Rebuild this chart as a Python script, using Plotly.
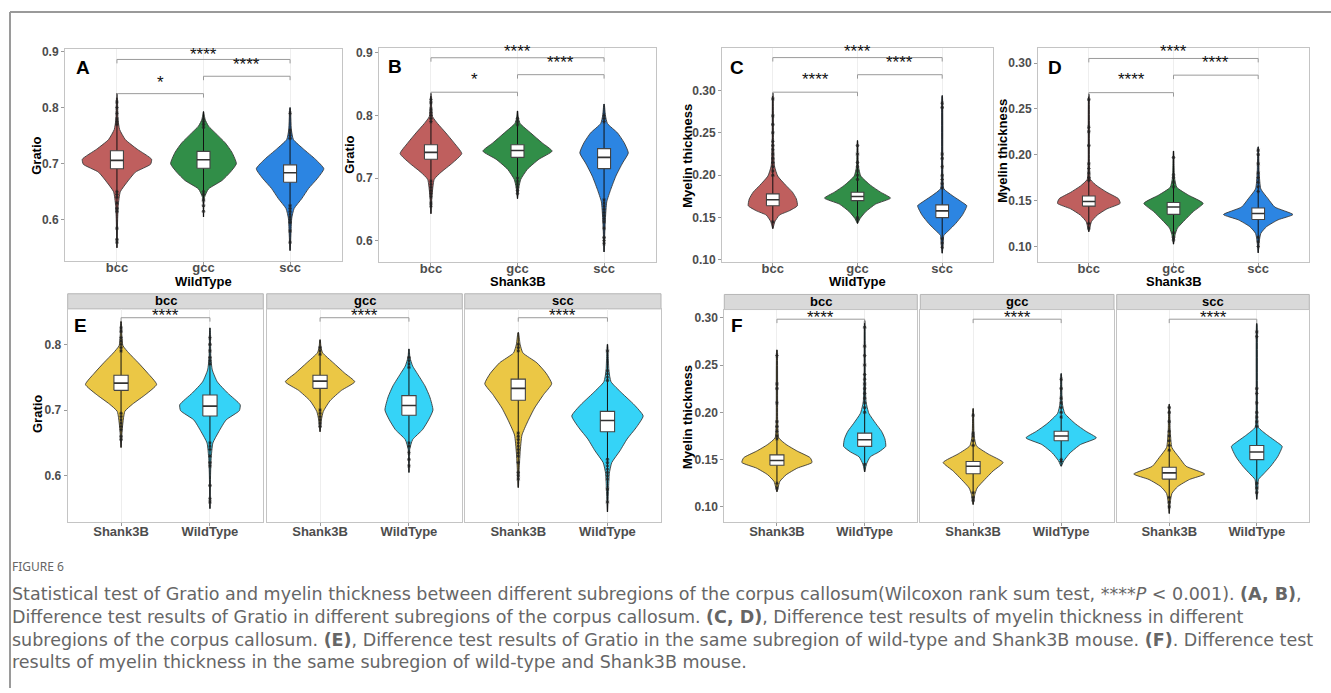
import plotly.graph_objects as go

W, H = 1331, 693

# ---------------- data ----------------
regions = ["bcc", "gcc", "scc"]
genotypes = ["Shank3B", "WildType"]

# Gratio - WildType
wt_gratio_bcc = dict(
    levels=[0.55, 0.60, 0.626, 0.65, 0.667, 0.685, 0.699, 0.708, 0.726, 0.743, 0.761, 0.78, 0.825],
    density=[0.5, 2, 4, 10, 30, 55, 100, 103, 60, 25, 8, 3, 0.5],
    quartiles=[0.691, 0.706, 0.723],
    extent=[0.55, 0.825],
    outliers=[0.56, 0.565, 0.585, 0.615, 0.62, 0.63, 0.64, 0.645, 0.65, 0.77, 0.775, 0.78, 0.79, 0.80, 0.81])
wt_gratio_gcc = dict(
    levels=[0.605, 0.64, 0.655, 0.67, 0.685, 0.70, 0.72, 0.737, 0.755, 0.767, 0.78, 0.793],
    density=[0.5, 3, 15, 55, 80, 98, 85, 65, 35, 15, 4, 0.5],
    quartiles=[0.692, 0.707, 0.722],
    extent=[0.605, 0.793],
    outliers=[0.615, 0.625, 0.635, 0.645, 0.65, 0.765, 0.77, 0.775, 0.78])
wt_gratio_scc = dict(
    levels=[0.545, 0.58, 0.603, 0.62, 0.638, 0.656, 0.673, 0.691, 0.708, 0.726, 0.743, 0.76, 0.80],
    density=[0.5, 3, 5, 12, 35, 55, 80, 100, 75, 40, 10, 4, 0.5],
    quartiles=[0.667, 0.684, 0.698],
    extent=[0.545, 0.80],
    outliers=[0.56, 0.58, 0.595, 0.60, 0.605, 0.61, 0.615, 0.62, 0.625, 0.745, 0.75, 0.755, 0.76, 0.79])

# Gratio - Shank3B
s_gratio_bcc = dict(
    levels=[0.643, 0.67, 0.698, 0.709, 0.724, 0.739, 0.756, 0.772, 0.787, 0.798, 0.815, 0.835],
    density=[0.5, 3, 10, 30, 65, 93, 70, 45, 20, 5, 2, 0.5],
    quartiles=[0.730, 0.741, 0.753],
    extent=[0.643, 0.835],
    outliers=[0.655, 0.66, 0.67, 0.675, 0.68, 0.685, 0.69, 0.695, 0.79, 0.795, 0.80, 0.805, 0.81, 0.82, 0.825])
s_gratio_gcc = dict(
    levels=[0.667, 0.685, 0.698, 0.714, 0.730, 0.743, 0.756, 0.772, 0.787, 0.795, 0.807],
    density=[0.5, 4, 10, 30, 65, 105, 75, 40, 8, 3, 0.5],
    quartiles=[0.733, 0.744, 0.753],
    extent=[0.667, 0.807],
    outliers=[0.675, 0.68, 0.685, 0.69, 0.695, 0.70, 0.785, 0.79, 0.795])
s_gratio_scc = dict(
    levels=[0.582, 0.61, 0.635, 0.662, 0.682, 0.703, 0.724, 0.740, 0.756, 0.772, 0.787, 0.80, 0.818],
    density=[0.5, 2, 4, 8, 20, 35, 55, 72, 60, 40, 10, 4, 0.5],
    quartiles=[0.715, 0.733, 0.747],
    extent=[0.582, 0.818],
    outliers=[0.595, 0.60, 0.605, 0.62, 0.63, 0.635, 0.64, 0.645, 0.65, 0.655, 0.66, 0.665, 0.79, 0.795, 0.80])

# Myelin thickness - WildType
wt_myelin_bcc = dict(
    levels=[0.137, 0.145, 0.153, 0.158, 0.164, 0.172, 0.18, 0.188, 0.199, 0.211, 0.24, 0.297],
    density=[0.5, 6, 20, 50, 75, 72, 60, 40, 15, 5, 2, 0.5],
    quartiles=[0.164, 0.171, 0.178],
    extent=[0.137, 0.297],
    outliers=[0.145, 0.20, 0.205, 0.21, 0.215, 0.22, 0.225, 0.23, 0.235, 0.24, 0.25, 0.26, 0.27, 0.29])
wt_myelin_gcc = dict(
    levels=[0.143, 0.149, 0.157, 0.166, 0.173, 0.18, 0.188, 0.199, 0.21, 0.241],
    density=[0.5, 8, 25, 55, 100, 70, 40, 10, 3, 0.5],
    quartiles=[0.170, 0.175, 0.180],
    extent=[0.143, 0.241],
    outliers=[0.148, 0.15, 0.195, 0.20, 0.205, 0.21, 0.215, 0.225, 0.235])
wt_myelin_scc = dict(
    levels=[0.108, 0.12, 0.129, 0.135, 0.143, 0.153, 0.164, 0.168, 0.176, 0.184, 0.20, 0.294],
    density=[0.5, 3, 5, 20, 40, 60, 73, 60, 30, 5, 2, 0.5],
    quartiles=[0.150, 0.158, 0.165],
    extent=[0.108, 0.294],
    outliers=[0.115, 0.12, 0.125, 0.185, 0.19, 0.195, 0.20, 0.21, 0.22, 0.225, 0.28, 0.285])

# Myelin thickness - Shank3B
s_myelin_bcc = dict(
    levels=[0.116, 0.127, 0.134, 0.141, 0.147, 0.152, 0.159, 0.166, 0.173, 0.19, 0.266],
    density=[0.5, 8, 25, 55, 95, 90, 55, 25, 5, 2, 0.5],
    quartiles=[0.144, 0.149, 0.155],
    extent=[0.116, 0.266],
    outliers=[0.12, 0.125, 0.172, 0.175, 0.18, 0.185, 0.19, 0.21, 0.225, 0.23, 0.26])
s_myelin_gcc = dict(
    levels=[0.1025, 0.113, 0.12, 0.129, 0.138, 0.147, 0.156, 0.1645, 0.175, 0.204],
    density=[0.5, 5, 12, 35, 60, 90, 45, 10, 3, 0.5],
    quartiles=[0.135, 0.143, 0.148],
    extent=[0.1025, 0.204],
    outliers=[0.107, 0.11, 0.115, 0.165, 0.17, 0.175, 0.178, 0.197])
s_myelin_scc = dict(
    levels=[0.093, 0.105, 0.1143, 0.1215, 0.129, 0.1348, 0.143, 0.152, 0.1627, 0.18, 0.2086],
    density=[0.5, 3, 8, 25, 60, 105, 50, 30, 8, 3, 0.5],
    quartiles=[0.1294, 0.136, 0.142],
    extent=[0.093, 0.2086],
    outliers=[0.10, 0.105, 0.11, 0.16, 0.165, 0.17, 0.175, 0.18, 0.19, 0.20, 0.205])

gratio_ticks = [0.6, 0.7, 0.8, 0.9]
myelin_ticks = [0.10, 0.15, 0.20, 0.25, 0.30]

# ---------------- styling ----------------
region_colors = ["#BF5F5E", "#318E48", "#2C85E2"]
geno_colors = ["#EBC745", "#35D3F7"]
OUTLINE = "#3a3a3a"
FONT = "Liberation Sans"

fig = go.Figure()
annotations = []
shapes = []


def px_x(x):
    return x / W


def px_y(y):
    return 1 - y / H


def add_axes(i, box, xr, yr, tickvals, ticktext, yticks, yfmt, show_y=True, xstand=-9):
    x0, x1, top, bot = box
    sfx = "" if i == 1 else str(i)
    fig.update_layout(**{
        "xaxis" + sfx: dict(domain=[px_x(x0), px_x(x1)], range=xr, anchor="y" + sfx,
                            tickvals=tickvals, ticktext=ticktext, showgrid=True,
                            gridcolor="#eeeeee", gridwidth=1, zeroline=False,
                            showline=True, mirror=True, linecolor="#c4c4c4", linewidth=1,
                            ticks="outside", ticklen=3, tickcolor="#9a9a9a",
                            ticklabelstandoff=xstand,
                            tickfont=dict(family=FONT, size=13, color="#4d4d4d", weight="bold"),
                            fixedrange=True),
        "yaxis" + sfx: dict(domain=[px_y(bot), px_y(top)], range=yr, anchor="x" + sfx,
                            tickvals=yticks if show_y else [],
                            ticktext=[format(v, yfmt) for v in yticks] if show_y else [],
                            showgrid=False, zeroline=False,
                            showline=True, mirror=True, linecolor="#c4c4c4", linewidth=1,
                            ticks="outside" if show_y else "", ticklen=3, tickcolor="#9a9a9a",
                            tickfont=dict(family=FONT, size=12, color="#4d4d4d", weight="bold"),
                            fixedrange=True),
    })
    return "x" + sfx, "y" + sfx


def draw_violin(xa, ya, c, dist, halfw, color, bw):
    dens = dist["density"]
    m = max(dens)
    lv = dist["levels"]
    xs = [c + halfw * d / m for d in dens] + [c - halfw * d / m for d in reversed(dens)]
    ys = list(lv) + list(reversed(lv))
    fig.add_trace(go.Scatter(x=xs, y=ys, mode="lines", fill="toself", fillcolor=color,
                             line=dict(color=OUTLINE, width=0.9, shape="spline", smoothing=0.5),
                             xaxis=xa, yaxis=ya, hoverinfo="skip", showlegend=False))
    fig.add_trace(go.Scatter(x=[c, c], y=dist["extent"], mode="lines",
                             line=dict(color="#111111", width=1),
                             xaxis=xa, yaxis=ya, hoverinfo="skip", showlegend=False))
    fig.add_trace(go.Scatter(x=[c] * len(dist["outliers"]), y=dist["outliers"], mode="markers",
                             marker=dict(symbol="asterisk-open", size=3, color="#222222",
                                         line=dict(width=0.8, color="#222222")),
                             xaxis=xa, yaxis=ya, hoverinfo="skip", showlegend=False))
    # box (quartiles) drawn on top of the violin
    q1, med, q3 = dist["quartiles"]
    fig.add_trace(go.Scatter(x=[c - bw, c + bw, c + bw, c - bw, c - bw], y=[q1, q1, q3, q3, q1],
                             mode="lines", fill="toself", fillcolor="white",
                             line=dict(color="#444444", width=1.1),
                             xaxis=xa, yaxis=ya, hoverinfo="skip", showlegend=False))
    fig.add_trace(go.Scatter(x=[c - bw, c + bw], y=[med, med], mode="lines",
                             line=dict(color="#333333", width=1.6),
                             xaxis=xa, yaxis=ya, hoverinfo="skip", showlegend=False))


def draw_bracket(xa, ya, a, b, y, ly, label, dtick):
    fig.add_trace(go.Scatter(x=[a, a, b, b], y=[y - dtick, y, y, y - dtick], mode="lines",
                             line=dict(color="#9a9a9a", width=1),
                             xaxis=xa, yaxis=ya, hoverinfo="skip", showlegend=False))
    annotations.append(dict(x=(a + b) / 2, y=ly, xref=xa, yref=ya, text=label, showarrow=False,
                            yanchor="middle", yshift=0,
                            font=dict(family=FONT, size=17, color="#111111")))


def text(x, y, s, size, color="#000000", bold=True, angle=0, xanchor="center", family=FONT):
    annotations.append(dict(x=px_x(x), y=px_y(y), xref="paper", yref="paper", text=s,
                            showarrow=False, textangle=angle, xanchor=xanchor, yanchor="middle",
                            align="left",
                            font=dict(family=family, size=size, color=color,
                                      weight="bold" if bold else "normal")))


# ---------------- top panels A-D ----------------
top_panels = [
    dict(letter="A", dists=[wt_gratio_bcc, wt_gratio_gcc, wt_gratio_scc], box=(65, 342, 45, 260),
         yr=[0.526, 0.904], halfw=[0.40, 0.38, 0.39], yticks=gratio_ticks, fmt=".1f",
         brackets=[(1, 2, 0.825, 0.8456, "*"), (2, 3, 0.856, 0.8765, "****"), (1, 3, 0.886, 0.894, "****")],
         xtitle="WildType", ytitle="Gratio", ytx=37, yty=153, lx=83, ly=63),
    dict(letter="B", dists=[s_gratio_bcc, s_gratio_gcc, s_gratio_scc], box=(379, 656, 44, 260.7),
         yr=[0.566, 0.907], halfw=[0.356, 0.40, 0.28], yticks=gratio_ticks, fmt=".1f",
         brackets=[(1, 2, 0.837, 0.857, "*"), (2, 3, 0.865, 0.884, "****"), (1, 3, 0.892, 0.9016, "****")],
         xtitle="Shank3B", ytitle="Gratio", ytx=350, yty=152, lx=395, ly=62),
    dict(letter="C", dists=[wt_myelin_bcc, wt_myelin_gcc, wt_myelin_scc], box=(722, 993, 43.3, 260.7),
         yr=[0.0977, 0.3505], halfw=[0.29, 0.39, 0.29], yticks=myelin_ticks, fmt=".2f",
         brackets=[(1, 2, 0.298, 0.3128, "****"), (2, 3, 0.3186, 0.333, "****"), (1, 3, 0.3388, 0.3458, "****")],
         xtitle="WildType", ytitle="Myelin thickness", ytx=688, yty=153, lx=737, ly=63),
    dict(letter="D", dists=[s_myelin_bcc, s_myelin_gcc, s_myelin_scc], box=(1038, 1309, 44, 260.7),
         yr=[0.0831, 0.316], halfw=[0.37, 0.35, 0.41], yticks=myelin_ticks, fmt=".2f",
         brackets=[(1, 2, 0.2677, 0.282, "****"), (2, 3, 0.2868, 0.3008, "****"), (1, 3, 0.305, 0.3126, "****")],
         xtitle="Shank3B", ytitle="Myelin thickness", ytx=1003, yty=148, lx=1055, ly=63),
]

ax_i = 0
for p in top_panels:
    ax_i += 1
    xa, ya = add_axes(ax_i, p["box"], [0.4, 3.6], p["yr"], [1, 2, 3], regions, p["yticks"], p["fmt"])
    for k, d in enumerate(p["dists"]):
        draw_violin(xa, ya, k + 1, d, p["halfw"][k], region_colors[k], 0.075)
    x0, x1, top, bot = p["box"]
    dt = 4 * (p["yr"][1] - p["yr"][0]) / (bot - top)
    for a, b, y, ly, lab in p["brackets"]:
        draw_bracket(xa, ya, a, b, y, ly, lab, dt)
    text((x0 + x1) / 2, 281, p["xtitle"], 13)
    text(p["ytx"], p["yty"], p["ytitle"], 13, angle=-90)
    text(p["lx"], p["ly"], p["letter"], 19)

# ---------------- faceted panels E, F ----------------
facet_panels = [
    dict(letter="E", pairs=[(s_gratio_bcc, wt_gratio_bcc), (s_gratio_gcc, wt_gratio_gcc), (s_gratio_scc, wt_gratio_scc)],
         boxes=[(67.7, 263.3), (266.7, 462.3), (464.7, 661)], top=308.3, bot=525, strip_top=293,
         yr=[0.529, 0.854], halfw=[(0.40, 0.34), (0.39, 0.27), (0.375, 0.40)],
         yticks=[0.6, 0.7, 0.8], fmt=".1f", br=(0.8405, 0.8432),
         ytitle="Gratio", ytx=37, yty=415, lx=80, ly=325),
    dict(letter="F", pairs=[(s_myelin_bcc, wt_myelin_bcc), (s_myelin_gcc, wt_myelin_gcc), (s_myelin_scc, wt_myelin_scc)],
         boxes=[(724.3, 917.3), (920.3, 1114), (1116.7, 1309.3)], top=309, bot=525, strip_top=293.7,
         yr=[0.0836, 0.3087], halfw=[(0.40, 0.24), (0.34, 0.40), (0.405, 0.29)],
         yticks=myelin_ticks, fmt=".2f", br=(0.2985, 0.3003),
         ytitle="Myelin thickness", ytx=688, yty=418, lx=737, ly=325),
]

for p in facet_panels:
    for j, (x0, x1) in enumerate(p["boxes"]):
        ax_i += 1
        xa, ya = add_axes(ax_i, (x0, x1, p["top"], p["bot"]), [0.4, 2.6], p["yr"], [1, 2], genotypes,
                          p["yticks"], p["fmt"], show_y=(j == 0), xstand=-6)
        for k, d in enumerate(p["pairs"][j]):
            draw_violin(xa, ya, k + 1, d, p["halfw"][j][k], geno_colors[k], 0.08)
        dt = 4 * (p["yr"][1] - p["yr"][0]) / (p["bot"] - p["top"])
        draw_bracket(xa, ya, 1, 2, p["br"][0], p["br"][1], "****", dt)
        shapes.append(dict(type="rect", xref="paper", yref="paper",
                           x0=px_x(x0), x1=px_x(x1), y0=px_y(p["top"]), y1=px_y(p["strip_top"]),
                           fillcolor="#d9d9d9", line=dict(color="#b5b5b5", width=1), layer="below"))
        text((x0 + x1) / 2, (p["top"] + p["strip_top"]) / 2 - 0.5, regions[j], 13)
    text(p["ytx"], p["yty"], p["ytitle"], 13, angle=-90)
    text(p["lx"], p["ly"], p["letter"], 19)

# ---------------- outer frame and caption ----------------
shapes.append(dict(type="line", xref="paper", yref="paper", x0=px_x(10), x1=px_x(10),
                   y0=0, y1=px_y(7), line=dict(color="#9a9a9a", width=2)))
shapes.append(dict(type="line", xref="paper", yref="paper", x0=px_x(10), x1=1,
                   y0=px_y(7), y1=px_y(7), line=dict(color="#9a9a9a", width=2)))

CAPC = "#666666"
text(10, 570, "FIGURE 6", 12, color=CAPC, bold=False, xanchor="left", family="Noto Sans")
caption_lines = [
    "Statistical test of Gratio and myelin thickness between different subregions of the corpus callosum(Wilcoxon rank sum test, ****<i>P</i> &lt; 0.001). <b>(A, B)</b>,",
    "Difference test results of Gratio in different subregions of the corpus callosum. <b>(C, D)</b>, Difference test results of myelin thickness in different",
    "subregions of the corpus callosum. <b>(E)</b>, Difference test results of Gratio in the same subregion of wild-type and Shank3B mouse. <b>(F)</b>. Difference test",
    "results of myelin thickness in the same subregion of wild-type and Shank3B mouse.",
]
text(10, 632, "<br>".join(caption_lines), 17.5, color=CAPC, bold=False, xanchor="left",
     family="DejaVu Sans")

fig.update_layout(width=W, height=H, margin=dict(l=0, r=0, t=0, b=0),
                  paper_bgcolor="white", plot_bgcolor="white", showlegend=False,
                  annotations=annotations, shapes=shapes)

fig.write_html("out.html", config={"displayModeBar": False},
               post_script="document.body.style.margin='0px';document.body.style.overflow='hidden';")
